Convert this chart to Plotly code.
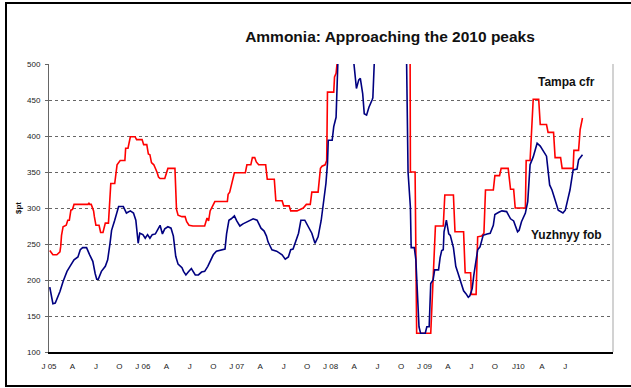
import plotly.graph_objects as go

# Month index since Jan 2005 (0 = 1 Jan 2005), $/t
yuzhnyy_month = [0.1,0.5,0.8,1.4,1.8,2.3,2.8,3.2,3.7,4.0,4.3,4.8,5.2,5.6,5.9,6.1,6.3,6.7,7.2,7.5,
                 7.8,8.0,8.4,8.9,9.5,9.9,10.4,10.8,11.1,11.4,11.6,12.0,12.3,12.6,12.9,13.2,13.6,14.0,14.2,14.5,
                 14.8,15.2,15.6,15.9,16.2,16.5,17.0,17.2,17.5,17.8,18.2,18.7,19.1,19.5,19.9,20.3,20.6,21.0,21.4,22.0,
                 22.5,22.7,23.0,23.3,23.7,24.0,24.4,24.8,25.5,26.1,26.6,27.1,27.5,27.8,28.0,28.5,29.1,29.8,30.2,30.6,
                 30.9,31.2,31.9,32.2,32.7,33.1,33.6,34.0,34.4,34.8,35.1,35.4,35.6,35.7,36.2,36.4,36.7,37.1,37.8,38.5,
                 38.8,39.3,39.6,39.8,40.1,40.3,40.6,40.9,41.3,41.4,41.8,43.0,44.5,45.5,45.9,46.2,46.3,46.7,46.9,47.1,
                 47.3,47.5,48.1,48.3,48.6,48.8,49.1,49.3,49.8,50.0,50.2,50.4,50.5,50.8,51.1,51.3,51.5,51.7,51.9,52.0,
                 52.3,52.6,53.0,53.3,53.6,53.8,54.1,54.3,54.6,54.8,55.1,55.5,56.0,56.4,56.8,57.0,57.5,57.9,58.5,59.0,
                 59.4,59.9,60.1,60.4,60.9,61.2,61.5,61.9,62.4,62.8,63.2,63.6,64.0,64.3,64.7,65.1,65.7,66.0,66.3,66.6,
                 67.0,67.5,67.7,68.2]
yuzhnyy_fob = [190,167,168,184,198,212,221,228,232,242,245,245,235,226,209,201,201,212,219,228,
               251,269,283,302,302,293,296,293,283,251,265,263,258,263,258,263,264,271,276,264,
               271,274,272,261,233,222,217,212,207,211,216,207,207,211,212,219,226,235,240,242,
               243,264,283,285,289,282,275,278,282,285,283,272,268,261,253,242,240,235,229,232,
               242,243,265,283,283,274,265,251,260,283,306,334,362,394,394,413,426,560,580,560,
               520,466,478,480,459,431,429,440,450,453,560,650,700,680,350,301,245,245,228,168,
               135,126,126,135,135,195,200,214,214,231,241,242,267,283,264,262,255,245,228,219,
               209,200,185,181,176,178,188,206,228,242,246,262,264,265,276,291,294,296,295,285,
               282,267,269,281,293,309,360,371,390,386,379,372,332,325,311,297,293,297,311,325,
               353,354,367,374]

tampa_month = [0.1,0.5,1.0,1.2,1.4,1.5,1.6,1.8,2.2,2.4,2.6,2.8,3.0,3.2,5.0,5.1,5.2,5.4,5.7,5.8,
               6.0,6.4,6.6,6.9,7.2,7.6,7.8,7.9,8.4,8.7,9.1,9.7,9.8,10.1,10.4,11.0,11.2,11.9,12.1,12.5,
               12.7,12.9,13.1,13.4,13.8,14.0,14.2,14.8,15.2,16.1,16.3,16.5,17.0,17.4,17.6,17.9,18.4,19.9,20.2,20.4,
               20.6,20.9,21.2,22.8,22.9,23.1,23.4,23.7,25.1,25.3,25.8,26.0,26.3,26.5,26.8,27.7,27.9,28.8,29.0,29.8,
               30.0,30.7,30.9,31.7,32.1,32.5,32.9,33.4,33.6,34.4,34.7,34.9,35.3,35.5,35.6,36.4,36.5,36.7,37.0,37.1,
               39.0,40.0,41.0,42.0,46.1,46.2,46.8,47.0,48.8,49.1,49.4,50.4,50.6,51.7,51.9,53.0,53.2,53.9,54.0,54.6,
               54.8,55.3,55.6,55.8,56.8,57.0,57.6,57.8,58.7,59.0,59.4,59.6,60.9,61.0,61.5,61.9,62.6,62.8,63.6,63.8,
               64.5,64.7,65.4,65.6,67.0,67.1,67.7,67.9,68.2]
tampa_cfr = [241,235,235,237,239,247,262,274,276,283,283,297,298,305,305,307,305,305,296,288,
             276,276,266,266,279,279,314,334,334,360,366,366,383,383,399,399,395,395,388,388,
             375,374,363,360,350,343,341,341,355,355,298,290,288,288,281,276,275,275,286,282,
             296,302,309,309,319,322,336,349,349,360,360,370,370,364,360,360,340,340,310,310,
             303,303,296,296,298,300,305,305,322,322,355,358,360,366,461,461,482,487,520,540,
             560,625,725,785,785,350,350,126,126,214,275,275,318,318,267,267,210,210,180,180,
             260,261,265,325,325,345,345,355,355,326,326,300,300,366,366,451,451,416,416,405,
             405,370,370,355,355,380,380,409,425]

tick_months = list(range(0, 67, 3))
tick_labels = ["J 05", "A", "J", "O", "J 06", "A", "J", "O", "J 07", "A", "J", "O",
               "J 08", "A", "J", "O", "J 09", "A", "J", "O", "J10", "A", "J"]
y_ticks = [100, 150, 200, 250, 300, 350, 400, 450, 500]

FONT = "Liberation Sans, Arial, sans-serif"
W, H = 631, 388
ML, MR, MT, MB = 49, 18, 64, 36
PW, PH = W - ML - MR, H - MT - MB

fig = go.Figure()
fig.add_trace(go.Scatter(x=tampa_month, y=tampa_cfr, mode="lines", name="Tampa cfr",
                         line=dict(color="#ff0000", width=1.6)))
fig.add_trace(go.Scatter(x=yuzhnyy_month, y=yuzhnyy_fob, mode="lines", name="Yuzhnyy fob",
                         line=dict(color="#000080", width=1.6)))

def px_to_paper_x(px):
    return (px - ML) / PW

def px_to_paper_y(py):
    return (H - MB - py) / PH

# outer chart border
fig.add_shape(type="rect", xref="paper", yref="paper",
              x0=px_to_paper_x(6), x1=px_to_paper_x(640),
              y0=px_to_paper_y(386), y1=px_to_paper_y(3),
              line=dict(color="#000000", width=2), layer="above")
# plot area right border
fig.add_shape(type="line", xref="paper", yref="paper", x0=1, x1=1, y0=0, y1=1,
              line=dict(color="#b4b4b4", width=1.2), layer="below")

fig.add_annotation(x=66.2, y=475, xref="x", yref="y", text="<b>Tampa cfr</b>",
                   showarrow=False, font=dict(family=FONT, size=12, color="#111111"))
fig.add_annotation(x=66.1, y=262, xref="x", yref="y", text="<b>Yuzhnyy fob</b>",
                   showarrow=False, font=dict(family=FONT, size=12, color="#111111"))

fig.update_layout(
    width=W, height=H,
    margin=dict(l=ML, r=MR, t=MT, b=MB),
    paper_bgcolor="white", plot_bgcolor="white",
    showlegend=False,
    font=dict(family=FONT, color="#222222"),
    title=dict(text="<b>Ammonia: Approaching the 2010 peaks</b>",
               x=390 / W, xanchor="center", y=1 - 37 / H, yanchor="middle",
               font=dict(family=FONT, size=15.5, color="#111111")),
    xaxis=dict(range=[0, 72.1], tickvals=tick_months, ticktext=tick_labels,
               showgrid=False, zeroline=False, showline=True, linecolor="#000000",
               linewidth=1.5, ticks="", ticklabelstandoff=6,
               tickfont=dict(family=FONT, size=8, color="#222222"), fixedrange=True),
    yaxis=dict(range=[100, 500], tickvals=y_ticks, showgrid=True, gridcolor="#666666",
               griddash="dot", gridwidth=1, zeroline=False, showline=True,
               linecolor="#666666", linewidth=1, ticks="outside", ticklen=3,
               tickcolor="#666666", ticklabelstandoff=3,
               tickfont=dict(family=FONT, size=8, color="#222222"),
               title=dict(text="<b>$pt</b>", standoff=4,
                          font=dict(family=FONT, size=8, color="#111111")),
               fixedrange=True),
)

fig.write_html("out.html")
